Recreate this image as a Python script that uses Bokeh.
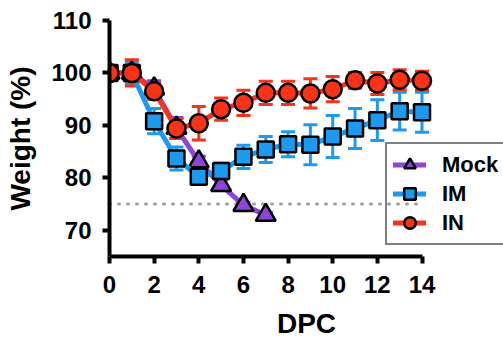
from bokeh.plotting import figure
from bokeh.models import (ColumnDataSource, Whisker, TeeHead, Legend, LegendItem,
                          Range1d, FixedTicker)
from bokeh.embed import file_html
from bokeh.resources import INLINE

# ---- data ----
mock_days = [0, 1, 2, 3, 4, 5, 6, 7]
mock_mean = [100, 100, 97.0, 89.5, 83.1, 78.6, 74.8, 72.9]
mock_err = [0, 1.0, 1.5, 2.0, 1.0, 1.0, 0.5, 0.5]

days = [0, 1, 2, 3, 4, 5, 6, 7, 8, 9, 10, 11, 12, 13, 14]
im_mean = [100, 100, 90.8, 83.7, 80.2, 81.3, 84.0, 85.4, 86.4, 86.3, 87.9, 89.4, 91.0, 92.7, 92.5]
im_err = [0, 2.0, 2.4, 2.2, 1.2, 1.5, 2.2, 2.5, 2.4, 3.8, 4.0, 3.8, 3.9, 3.6, 3.8]
in_mean = [100, 100, 96.5, 89.4, 90.4, 93.1, 94.3, 96.2, 96.2, 96.1, 96.9, 98.6, 98.0, 98.7, 98.5]
in_err = [0, 2.5, 1.5, 1.9, 3.2, 2.1, 2.4, 2.2, 2.2, 2.8, 2.4, 1.5, 2.1, 1.9, 1.8]

threshold = 75
x_ticks = [0, 2, 4, 6, 8, 10, 12, 14]
y_ticks = [70, 80, 90, 100, 110]

MOCK_C = "#8C44DB"
IM_C = "#1B9AEF"
IN_C = "#FA3218"
FONT = "Liberation Sans"

W, H = 503, 343
LEFT, TOP, BOTTOM = 109, 20, 256
px_per_day = (421.5 - LEFT) / 14.0
x_end = (W - LEFT) / px_per_day

p = figure(width=W, height=H, output_backend="svg", toolbar_location=None,
           x_range=Range1d(0, x_end), y_range=Range1d(65, 110),
           min_border_left=LEFT, min_border_right=0, min_border_top=TOP,
           min_border_bottom=H - BOTTOM)
p.outline_line_color = None
p.grid.visible = False
p.background_fill_color = "white"
p.border_fill_color = "white"

for ax in (p.xaxis[0], p.yaxis[0]):
    ax.axis_line_width = 4
    ax.axis_line_color = "black"
    ax.major_tick_line_width = 4
    ax.major_tick_line_color = "black"
    ax.major_tick_out = 7
    ax.major_tick_in = 0
    ax.minor_tick_line_color = None
    ax.major_label_text_font = FONT
    ax.major_label_text_font_style = "bold"
    ax.major_label_text_font_size = "24px"
    ax.major_label_text_color = "black"
    ax.axis_label_text_font = FONT
    ax.axis_label_text_font_style = "bold"
    ax.axis_label_text_font_size = "28px"
    ax.axis_label_text_color = "black"

p.xaxis.ticker = FixedTicker(ticks=x_ticks)
p.yaxis.ticker = FixedTicker(ticks=y_ticks)
p.xaxis.bounds = (0, 14)
p.xaxis.axis_label = "DPC"
p.yaxis.axis_label = "Weight (%)"
p.xaxis.major_label_standoff = 12
p.yaxis.major_label_standoff = 11
p.xaxis.axis_label_standoff = 12
p.yaxis.axis_label_standoff = 12

# threshold dotted line
p.line([0, 14], [threshold, threshold], line_color="#9E9E9E", line_width=3,
       line_dash="1 8", line_cap="round")


def series(x, m, e, color, marker, size):
    src = ColumnDataSource(dict(x=x, m=m,
                                lo=[a - b for a, b in zip(m, e)],
                                hi=[a + b for a, b in zip(m, e)]))
    w = Whisker(base="x", upper="hi", lower="lo", source=src,
                line_color=color, line_width=3,
                upper_head=TeeHead(size=14, line_color=color, line_width=3),
                lower_head=TeeHead(size=14, line_color=color, line_width=3))
    p.add_layout(w)
    ln = p.line("x", "m", source=src, line_color=color, line_width=5,
                line_join="round", line_cap="round")
    sc = p.scatter("x", "m", source=src, marker=marker, size=size,
                   fill_color=color, line_color="black", line_width=2.5)
    return ln, sc


ml, ms = series(mock_days, mock_mean, mock_err, MOCK_C, "triangle", 20)
iml, ims = series(days, im_mean, im_err, IM_C, "square", 16)
inl, ins = series(days, in_mean, in_err, IN_C, "circle", 18)

legend = Legend(items=[LegendItem(label="Mock", renderers=[ml, ms]),
                       LegendItem(label="IM", renderers=[iml, ims]),
                       LegendItem(label="IN", renderers=[inl, ins])],
                location=(385 - LEFT, BOTTOM - 245))
legend.label_text_font = FONT
legend.label_text_font_style = "bold"
legend.label_text_font_size = "22px"
legend.label_text_color = "black"
legend.glyph_width = 33
legend.glyph_height = 29
legend.label_height = 29
legend.label_standoff = 16
legend.spacing = 0
legend.padding = 6
legend.margin = 0
legend.border_line_color = "black"
legend.border_line_width = 2.5
legend.background_fill_alpha = 0
p.add_layout(legend)

open("out.html", "w").write(file_html(p, INLINE))
